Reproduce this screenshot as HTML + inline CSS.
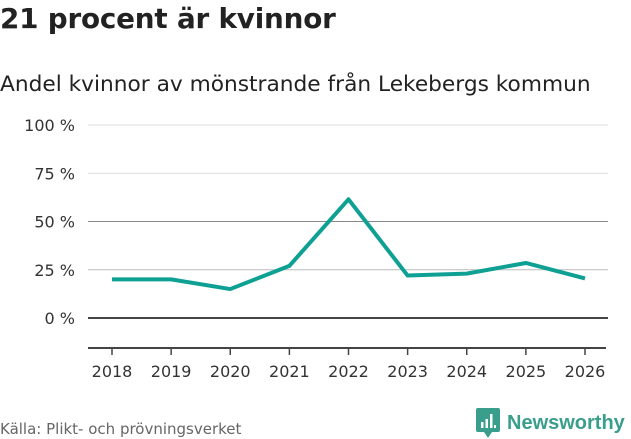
<!DOCTYPE html>
<html><head><meta charset="utf-8"><style>
body{margin:0;width:631px;height:439px;background:#fff;font-family:"DejaVu Sans","Liberation Sans",sans-serif;overflow:hidden;position:relative;color:#222}
#title{position:absolute;left:0;top:2px;font-size:27.8px;font-weight:bold;letter-spacing:-0.2px}
#sub{position:absolute;left:0;top:72px;font-size:21.7px;color:#222}
#src{position:absolute;left:0;top:420px;font-size:15px;color:#666}
#logo{position:absolute;left:476px;top:408px;font-size:20px;color:#3a9e8c;font-weight:bold;display:flex;align-items:center;font-family:"Liberation Sans",sans-serif}
</style></head><body>
<div id="title">21 procent är kvinnor</div>
<div id="sub">Andel kvinnor av mönstrande från Lekebergs kommun</div>
<svg id="chart" width="631" height="439" style="position:absolute;left:0;top:0"></svg>
<div id="src">Källa: Plikt- och prövningsverket</div>
<div id="logo"><svg width="24" height="30" viewBox="0 0 24 30"><rect x="0" y="0" width="24" height="24" rx="2" fill="#3a9e8c"/><polygon points="8,24 16,24 12,30" fill="#3a9e8c"/><rect x="5" y="14" width="2.5" height="6" fill="#fff"/><rect x="9.5" y="11" width="2.5" height="9" fill="#fff"/><rect x="14" y="6" width="2.5" height="14" fill="#fff"/><rect x="18" y="17" width="2" height="3" fill="#fff"/></svg><span style="margin-left:7px">Newsworthy</span></div>
<script>
const years=[2018,2019,2020,2021,2022,2023,2024,2025,2026];
const values=[20,20,15,27,61.5,22,23,28.5,20.5];
const yTicks=[0,25,50,75,100];
const yTickLabels=["0 %","25 %","50 %","75 %","100 %"];
const ns="http://www.w3.org/2000/svg";
const svg=document.getElementById('chart');
const x=i=>112+i*(585-112)/(years.length-1);
const y=v=>318-v*(318-125)/100;
function mk(t,a){const e=document.createElementNS(ns,t);for(const k in a)e.setAttribute(k,a[k]);svg.appendChild(e);return e;}
const gridCols={0:"#444",25:"#bbb",50:"#888",75:"#ddd",100:"#ddd"};
yTicks.forEach((v,i)=>{
 const l=mk('line',{x1:88,x2:608,y1:y(v),y2:y(v),stroke:gridCols[v]||"#ccc","stroke-width":v===0?2:1});
 
 
 const t=mk('text',{x:75,y:y(v)+6,"text-anchor":"end","font-size":16,fill:"#333","font-family":"DejaVu Sans, sans-serif"});
 t.textContent=yTickLabels[i];
 
 
});
const ax=mk('line',{x1:88,x2:606,y1:348,y2:348,stroke:"#444","stroke-width":2});


years.forEach((yr,i)=>{
 const tk=mk('line',{x1:x(i),x2:x(i),y1:348,y2:355,stroke:"#444","stroke-width":1.5});
 
 
 const t=mk('text',{x:x(i),y:377,"text-anchor":"middle","font-size":16,fill:"#333","font-family":"DejaVu Sans, sans-serif"});
 t.textContent=yr;
 
 
});
const p=mk('polyline',{points:values.map((v,i)=>x(i)+","+y(v)).join(" "),fill:"none",stroke:"#0fa094","stroke-width":4,"stroke-linejoin":"round"});


</script>
</body></html>
